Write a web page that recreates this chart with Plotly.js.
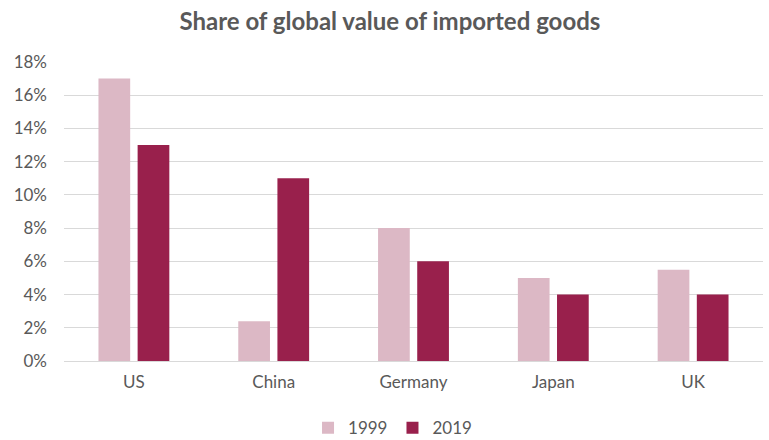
<!DOCTYPE html>
<html>
<head>
<meta charset="utf-8">
<script src="https://cdn.plot.ly/plotly-3.0.1.min.js"></script>
<style>html,body{margin:0;padding:0;background:#fff;}#chart{width:769px;height:440px;}</style>
</head>
<body>
<div id="chart"></div>
<script>
const categories = ["US", "China", "Germany", "Japan", "UK"];
const series1999 = [0.17, 0.024, 0.08, 0.05, 0.055];
const series2019 = [0.13, 0.11, 0.06, 0.04, 0.04];
const seriesNames = ["1999", "2019"];
const tickValues = [0, 0.02, 0.04, 0.06, 0.08, 0.10, 0.12, 0.14, 0.16, 0.18];

const font = "Lato, 'Open Sans', sans-serif";
const data = [
  {type: "bar", name: seriesNames[0], x: categories, y: series1999,
   marker: {color: "#dcb8c5"}, hoverinfo: "x+y"},
  {type: "bar", name: seriesNames[1], x: categories, y: series2019,
   marker: {color: "#99204c"}, hoverinfo: "x+y"}
];
const layout = {
  width: 769, height: 440,
  paper_bgcolor: "#ffffff", plot_bgcolor: "#ffffff",
  margin: {l: 64, r: 6, t: 62, b: 79, autoexpand: false},
  barmode: "group", bargap: 0.44, bargroupgap: 0.19,
  title: {text: "<b>Share of global value of imported goods</b>", x: 0.507, xanchor: "center",
          y: 0.952, yanchor: "middle",
          font: {family: font, size: 24, color: "#595959"}},
  font: {family: font, size: 17, color: "#595959"},
  xaxis: {type: "category", showgrid: false, zeroline: false, showline: false,
          ticks: "", ticklabelstandoff: 9, tickfont: {family: font, size: 17, color: "#595959"}},
  yaxis: {range: [0, 0.18], tickvals: tickValues, tickformat: ".0%", showgrid: true,
          gridcolor: "#d9d9d9", gridwidth: 1, zeroline: true, zerolinecolor: "#d9d9d9",
          showline: false, ticks: "", ticklabelstandoff: 16, fixedrange: true,
          tickfont: {family: font, size: 17, color: "#595959"}},
  legend: {orientation: "h", x: 0.47, xanchor: "center", y: -0.225, yanchor: "middle",
           font: {family: font, size: 17, color: "#595959"}, itemwidth: 30}
};
Plotly.newPlot("chart", data, layout, {displayModeBar: false, staticPlot: true});
</script>
</body>
</html>
